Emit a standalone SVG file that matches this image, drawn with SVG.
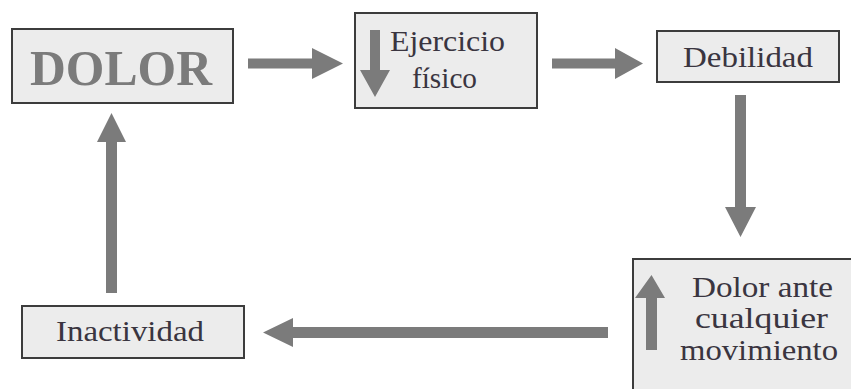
<svg xmlns="http://www.w3.org/2000/svg" width="851" height="389" viewBox="0 0 851 389">
<style>
.box{fill:#ececec;stroke:#3c3c3c;stroke-width:2}
.t{font-family:"Liberation Serif","Times New Roman",serif;font-size:30px;fill:#3a3540}
.big{font-family:"Liberation Serif","Times New Roman",serif;font-size:50px;font-weight:bold;fill:#7b7b7b}
.arr{fill:#7b7b7b}
</style>
<rect width="851" height="389" fill="#ffffff"/>
<g id="dolor">
<rect class="box" x="12" y="29" width="221" height="74"/>
<text class="big" x="30" y="85" textLength="182" lengthAdjust="spacingAndGlyphs">DOLOR</text>
</g>
<g id="ejercicio">
<rect class="box" x="355" y="13" width="182" height="95"/>
<path class="arr" d="M370 30 H380 V70 H390 L375 97 L360 70 H370 Z"/>
<text class="t" x="390" y="51" textLength="115" lengthAdjust="spacingAndGlyphs">Ejercicio</text>
<text class="t" x="412" y="88" textLength="65" lengthAdjust="spacingAndGlyphs">físico</text>
</g>
<g id="debilidad">
<rect class="box" x="657" y="31" width="182" height="51"/>
<text class="t" x="683" y="67" textLength="130" lengthAdjust="spacingAndGlyphs">Debilidad</text>
</g>
<g id="dolor-ante">
<rect class="box" x="633" y="259" width="240" height="150"/>
<path class="arr" d="M646 350 V298 H635 L651.5 275 L665 298 H657 V350 Z"/>
<text class="t" x="692" y="297" textLength="141" lengthAdjust="spacingAndGlyphs">Dolor ante</text>
<text class="t" x="695" y="328" textLength="133" lengthAdjust="spacingAndGlyphs">cualquier</text>
<text class="t" x="680" y="360" textLength="158" lengthAdjust="spacingAndGlyphs">movimiento</text>
</g>
<g id="inactividad">
<rect class="box" x="22" y="306" width="222" height="52"/>
<text class="t" x="56" y="341" textLength="148" lengthAdjust="spacingAndGlyphs">Inactividad</text>
</g>
<g id="connectors">
<path class="arr" d="M248 58.5 H312 V48 L343 63.5 L312 79 V68.5 H248 Z"/>
<path class="arr" d="M552 58.5 H615 V48 L643 63.5 L615 79 V68.5 H552 Z"/>
<path class="arr" d="M735 95 H746 V207 H756 L740.5 237 L725 207 H735 Z"/>
<path class="arr" d="M608 327 H293 V318 L263 332.5 L293 347 V338 H608 Z"/>
<path class="arr" d="M106 293 V142 H97 L111.5 113 L126 142 H117 V293 Z"/>
</g>
</svg>
